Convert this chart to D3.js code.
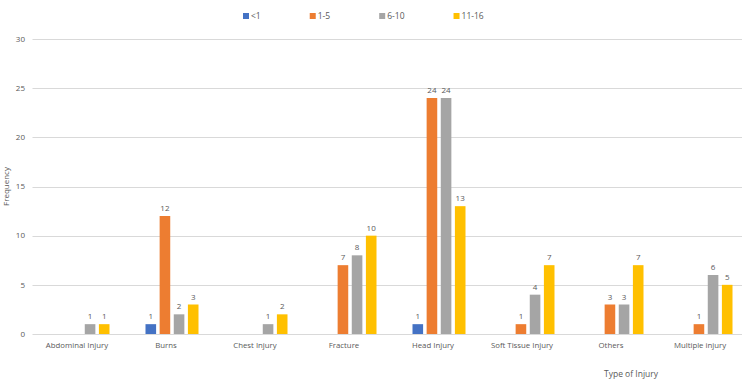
<!DOCTYPE html>
<html>
<head>
<meta charset="utf-8">
<script src="https://cdn.jsdelivr.net/npm/d3@7"></script>
<style>
  body { margin: 0; background: #fff; }
  svg { display: block; font-family: "Open Sans", "Liberation Sans", sans-serif; }
</style>
</head>
<body>
<div id="chart"></div>
<script>
const categories = ["Abdominal Injury", "Burns", "Chest Injury", "Fracture", "Head Injury", "Soft Tissue Injury", "Others", "Multiple injury"];
const series = ["<1", "1-5", "6-10", "11-16"];
const lessThan1 = [0, 1, 0, 0, 1, 0, 0, 0];
const age1to5 = [0, 12, 0, 7, 24, 1, 3, 1];
const age6to10 = [1, 2, 1, 8, 24, 4, 3, 6];
const age11to16 = [1, 3, 2, 10, 13, 7, 7, 5];
const yTicks = [0, 5, 10, 15, 20, 25, 30];

const seriesValues = [lessThan1, age1to5, age6to10, age11to16];
const colors = ["#4472C4", "#ED7D31", "#A5A5A5", "#FFC000"];

const width = 746;
const height = 383;
const plot = { left: 32.5, right: 744.5, top: 39, bottom: 334 };

const svg = d3.select("#chart")
    .append("svg")
    .attr("width", width)
    .attr("height", height);

const x0 = d3.scaleBand()
    .domain(categories)
    .range([plot.left, plot.right]);

const x1 = d3.scaleBand()
    .domain(series)
    .range([-26.5, 26.5])
    .paddingInner(0.25);

const y = d3.scaleLinear()
    .domain([0, 30])
    .range([plot.bottom, plot.top]);

// gridlines
svg.append("g")
    .selectAll("line")
    .data(yTicks)
    .enter()
    .append("line")
    .attr("x1", plot.left)
    .attr("x2", 742)
    .attr("y1", d => Math.round(y(d)) + 0.5)
    .attr("y2", d => Math.round(y(d)) + 0.5)
    .attr("stroke", "#d9d9d9")
    .attr("stroke-width", 1);

// y tick labels
svg.append("g")
    .selectAll("text")
    .data(yTicks)
    .enter()
    .append("text")
    .attr("x", 25)
    .attr("y", d => y(d))
    .attr("dy", "0.35em")
    .attr("text-anchor", "end")
    .style("font-size", "8px")
    .attr("fill", "#595959")
    .text(d => d);

// bars
const barOffset = 6;
const rows = [];
categories.forEach((c, i) => {
    series.forEach((s, j) => {
        rows.push({ category: c, series: s, value: seriesValues[j][i], color: colors[j] });
    });
});
const visible = rows.filter(d => d.value > 0);

const cx = d => x0(d.category) + x0.bandwidth() / 2 + barOffset;

svg.append("g")
    .selectAll("rect")
    .data(visible)
    .enter()
    .append("rect")
    .attr("x", d => cx(d) + x1(d.series))
    .attr("y", d => y(d.value))
    .attr("width", x1.bandwidth())
    .attr("height", d => y(0) - y(d.value))
    .attr("fill", d => d.color);

svg.append("g")
    .selectAll("text")
    .data(visible)
    .enter()
    .append("text")
    .attr("x", d => cx(d) + x1(d.series) + x1.bandwidth() / 2)
    .attr("y", d => y(d.value) - 5)
    .attr("text-anchor", "middle")
    .style("font-size", "8px")
    .attr("fill", "#595959")
    .text(d => d.value);

// category labels
svg.append("g")
    .selectAll("text")
    .data(categories)
    .enter()
    .append("text")
    .attr("x", d => x0(d) + x0.bandwidth() / 2)
    .attr("y", 348)
    .attr("text-anchor", "middle")
    .style("font-size", "7.8px")
    .attr("fill", "#595959")
    .text(d => d);

// axis titles
svg.append("text")
    .attr("transform", `translate(9, ${(plot.top + plot.bottom) / 2}) rotate(-90)`)
    .attr("text-anchor", "middle")
    .style("font-size", "8px")
    .attr("fill", "#595959")
    .text("Frequency");

svg.append("text")
    .attr("x", 631)
    .attr("y", 377)
    .attr("text-anchor", "middle")
    .style("font-size", "8.5px")
    .attr("fill", "#595959")
    .text("Type of Injury");

// legend
const legend = svg.append("g").attr("transform", "translate(243, 16)");
let lx = 0;
series.forEach((s, i) => {
    const item = legend.append("g").attr("transform", `translate(${lx}, 0)`);
    item.append("rect")
        .attr("x", 0)
        .attr("y", -3)
        .attr("width", 6)
        .attr("height", 6)
        .attr("fill", colors[i]);
    const t = item.append("text")
        .attr("x", 8)
        .attr("y", 0)
        .attr("dy", "0.35em")
        .style("font-size", "8.5px")
        .attr("fill", "#595959")
        .text(s);
    lx += 8 + t.node().getComputedTextLength() + 49;
});
</script>
</body>
</html>
